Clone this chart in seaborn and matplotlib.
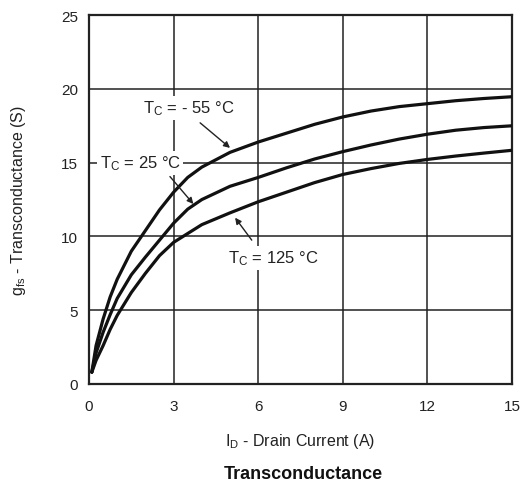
import matplotlib
matplotlib.use("Agg")
import matplotlib.pyplot as plt
import seaborn as sns
import pandas as pd

# ---- data ----
drain_current = [0.1, 0.25, 0.5, 0.75, 1, 1.5, 2, 2.5, 3, 3.5, 4, 5, 6, 7, 8, 9, 10, 11, 12, 13, 14, 15]
gfs_m55 = [0.8, 2.6, 4.4, 5.9, 7.1, 9.0, 10.4, 11.8, 13.0, 14.0, 14.7, 15.7, 16.4, 17.0, 17.6, 18.1, 18.5, 18.8, 19.0, 19.2, 19.35, 19.47]
gfs_25 = [0.8, 2.1, 3.5, 4.7, 5.8, 7.4, 8.6, 9.75, 10.9, 11.85, 12.5, 13.4, 14.0, 14.65, 15.25, 15.75, 16.2, 16.6, 16.93, 17.2, 17.38, 17.5]
gfs_125 = [0.8, 1.6, 2.6, 3.7, 4.65, 6.2, 7.5, 8.7, 9.6, 10.2, 10.8, 11.6, 12.35, 13.0, 13.65, 14.2, 14.6, 14.95, 15.22, 15.45, 15.65, 15.84]
series_names = ["-55", "25", "125"]
x_ticks = [0, 3, 6, 9, 12, 15]
y_ticks = [0, 5, 10, 15, 20, 25]

df = pd.concat([
    pd.DataFrame({"ID": drain_current, "gfs": vals, "Tc": name})
    for name, vals in zip(series_names, [gfs_m55, gfs_25, gfs_125])
])

sns.set_style("white")
plt.rcParams["font.family"] = ["Liberation Sans", "DejaVu Sans"]
plt.rcParams["mathtext.default"] = "regular"

fig = plt.figure(figsize=(5.22, 4.89), dpi=100)
ax = fig.add_axes([0.1705, 0.2127, 0.8105, 0.7543])

sns.lineplot(data=df, x="ID", y="gfs", hue="Tc", palette=["#111111"] * 3,
             linewidth=2.3, legend=False, ax=ax, zorder=3, sort=False)

ax.set_xlim(0, 15)
ax.set_ylim(0, 25)
ax.set_xticks(x_ticks)
ax.set_yticks(y_ticks)
ax.grid(True, color="#222222", linewidth=1.1)
ax.set_axisbelow(True)
for sp in ax.spines.values():
    sp.set_visible(True)
    sp.set_color("#222222")
    sp.set_linewidth(1.6)
ax.tick_params(axis="x", length=0, labelsize=11, colors="#222222", pad=11)
ax.tick_params(axis="y", length=0, labelsize=11, colors="#222222", pad=8)

ax.set_xlabel("I$_{D}$ - Drain Current (A)", fontsize=11.5, color="#222222", labelpad=13)
ax.set_ylabel("g$_{fs}$ - Transconductance (S)", fontsize=11.5, color="#222222", labelpad=24)
fig.text(0.582, 0.029, "Transconductance", ha="center", va="center",
         fontsize=13, fontweight="bold", color="#111111")

bbox = dict(boxstyle="square,pad=0.15", facecolor="white", edgecolor="none")
arrow = dict(arrowstyle="-|>", color="#222222", lw=1.0, mutation_scale=9,
             shrinkA=0, shrinkB=0)

ax.text(1.92, 18.7, "T$_{C}$ = - 55 °C", fontsize=12, color="#222222",
        va="center", ha="left", bbox=bbox, zorder=4)
ax.annotate("", xy=(5.0, 16.0), xytext=(3.94, 17.7), arrowprops=arrow, zorder=4)

ax.text(0.38, 15.0, "T$_{C}$ = 25 °C", fontsize=12, color="#222222",
        va="center", ha="left", bbox=bbox, zorder=4)
ax.annotate("", xy=(3.7, 12.2), xytext=(2.87, 14.06), arrowprops=arrow, zorder=4)

ax.text(4.93, 8.55, "T$_{C}$ = 125 °C", fontsize=12, color="#222222",
        va="center", ha="left", bbox=bbox, zorder=4)
ax.annotate("", xy=(5.18, 11.27), xytext=(5.77, 9.75), arrowprops=arrow, zorder=4)

fig.savefig("out.png", dpi=100, facecolor="white")
